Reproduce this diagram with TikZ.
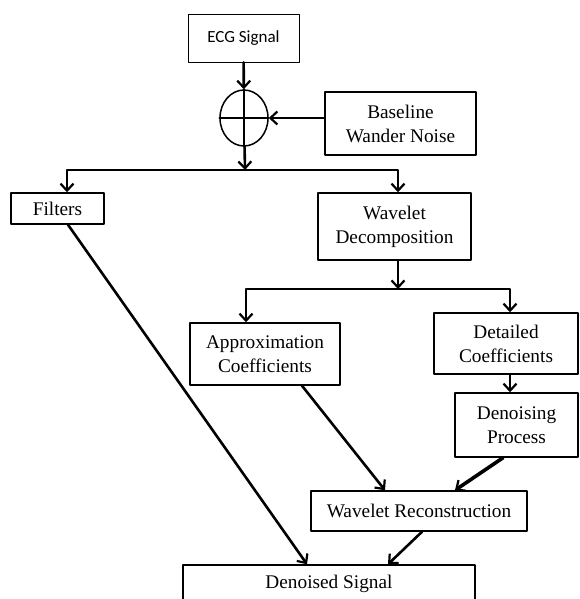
\documentclass[tikz,border=0pt]{standalone}
\usepackage{fontspec}
\setmainfont{Liberation Serif}
\newfontfamily\ecgfont{Carlito}
\usetikzlibrary{arrows.meta,shapes.geometric}

\begin{document}
\begin{tikzpicture}[x=1pt, y=-1pt, line cap=round, line join=round,
  box/.style={draw, line width=1.5pt, align=center, inner sep=0pt,
    font=\fontsize{19.3}{24}\selectfont},
  arr/.style={line width=2.6pt, -{Straight Barb[length=7pt,width=13pt,line width=2.2pt]}},
  bus/.style={line width=2.6pt}]
  \useasboundingbox (0,0) rectangle (580,599);
  \clip (0,0) rectangle (580,599);

  % ingresso e rumore
  \node[box, line width=0.8pt, minimum width=111pt, minimum height=48pt,
    font=\ecgfont\fontsize{17}{20}\selectfont] (ecg) at (243.5,38) {ECG Signal};
  \node[draw, ellipse, line width=1.5pt, minimum width=48pt, minimum height=56pt,
    inner sep=0pt] (sum) at (244,118) {};
  \draw[line width=1.5pt] (sum.north) -- (sum.south);
  \draw[line width=1.5pt] (sum.west) -- (sum.east);
  \node[box, minimum width=151pt, minimum height=63pt] (noise) at (400.5,123.5)
    {Baseline\\Wander Noise};

  % blocchi
  \node[box, minimum width=93pt, minimum height=31pt] (filt) at (57.5,208.5) {Filters};
  \node[box, minimum width=153pt, minimum height=67pt] (wd) at (394.5,226.5)
    {Wavelet\\Decomposition};
  \node[box, minimum width=150pt, minimum height=62pt] (approx) at (265,354)
    {Approximation\\Coefficients};
  \node[box, minimum width=144pt, minimum height=61pt] (detail) at (506,343.5)
    {Detailed\\Coefficients};
  \node[box, minimum width=123pt, minimum height=64pt] (denois) at (516.5,425)
    {Denoising\\Process};
  \node[box, minimum width=216pt, minimum height=40pt] (wr) at (419,511)
    {Wavelet Reconstruction};
  \node[box, minimum width=292pt, minimum height=37pt] (out) at (329,583.5)
    {Denoised Signal};

  % diramazioni
  \coordinate (j1) at (245,170);
  \coordinate (j2) at (398,289);
  \draw[arr] (ecg) -- (sum);
  \draw[arr] (noise.west |- sum) -- (sum.east);
  \draw[arr] (sum) -- (j1);
  \draw[arr] (j1) -| ([xshift=9.5pt]filt.north);
  \draw[arr] (j1) -| ([xshift=3.5pt]wd.north);
  \draw[arr] (wd.south -| j2) -- (j2);
  \draw[arr] (j2) -| ([xshift=-19pt]approx.north);
  \draw[arr] (j2) -| ([xshift=4pt]detail.north);

  % verso la ricostruzione
  \draw[arr] ([xshift=4pt]detail.south) -- ([xshift=-6.5pt]denois.north);
  \draw[arr] ([xshift=37pt]approx.south) -- ([xshift=-34pt]wr.north);
  \draw[arr, line width=3.6pt] ([xshift=-13.5pt]denois.south) -- ([xshift=36pt]wr.north);
  \draw[arr] ([xshift=3pt]wr.south) -- ([xshift=59pt]out.north);
  \draw[arr] ([xshift=10.5pt]filt.south) -- ([xshift=-22pt]out.north);
\end{tikzpicture}
\end{document}
